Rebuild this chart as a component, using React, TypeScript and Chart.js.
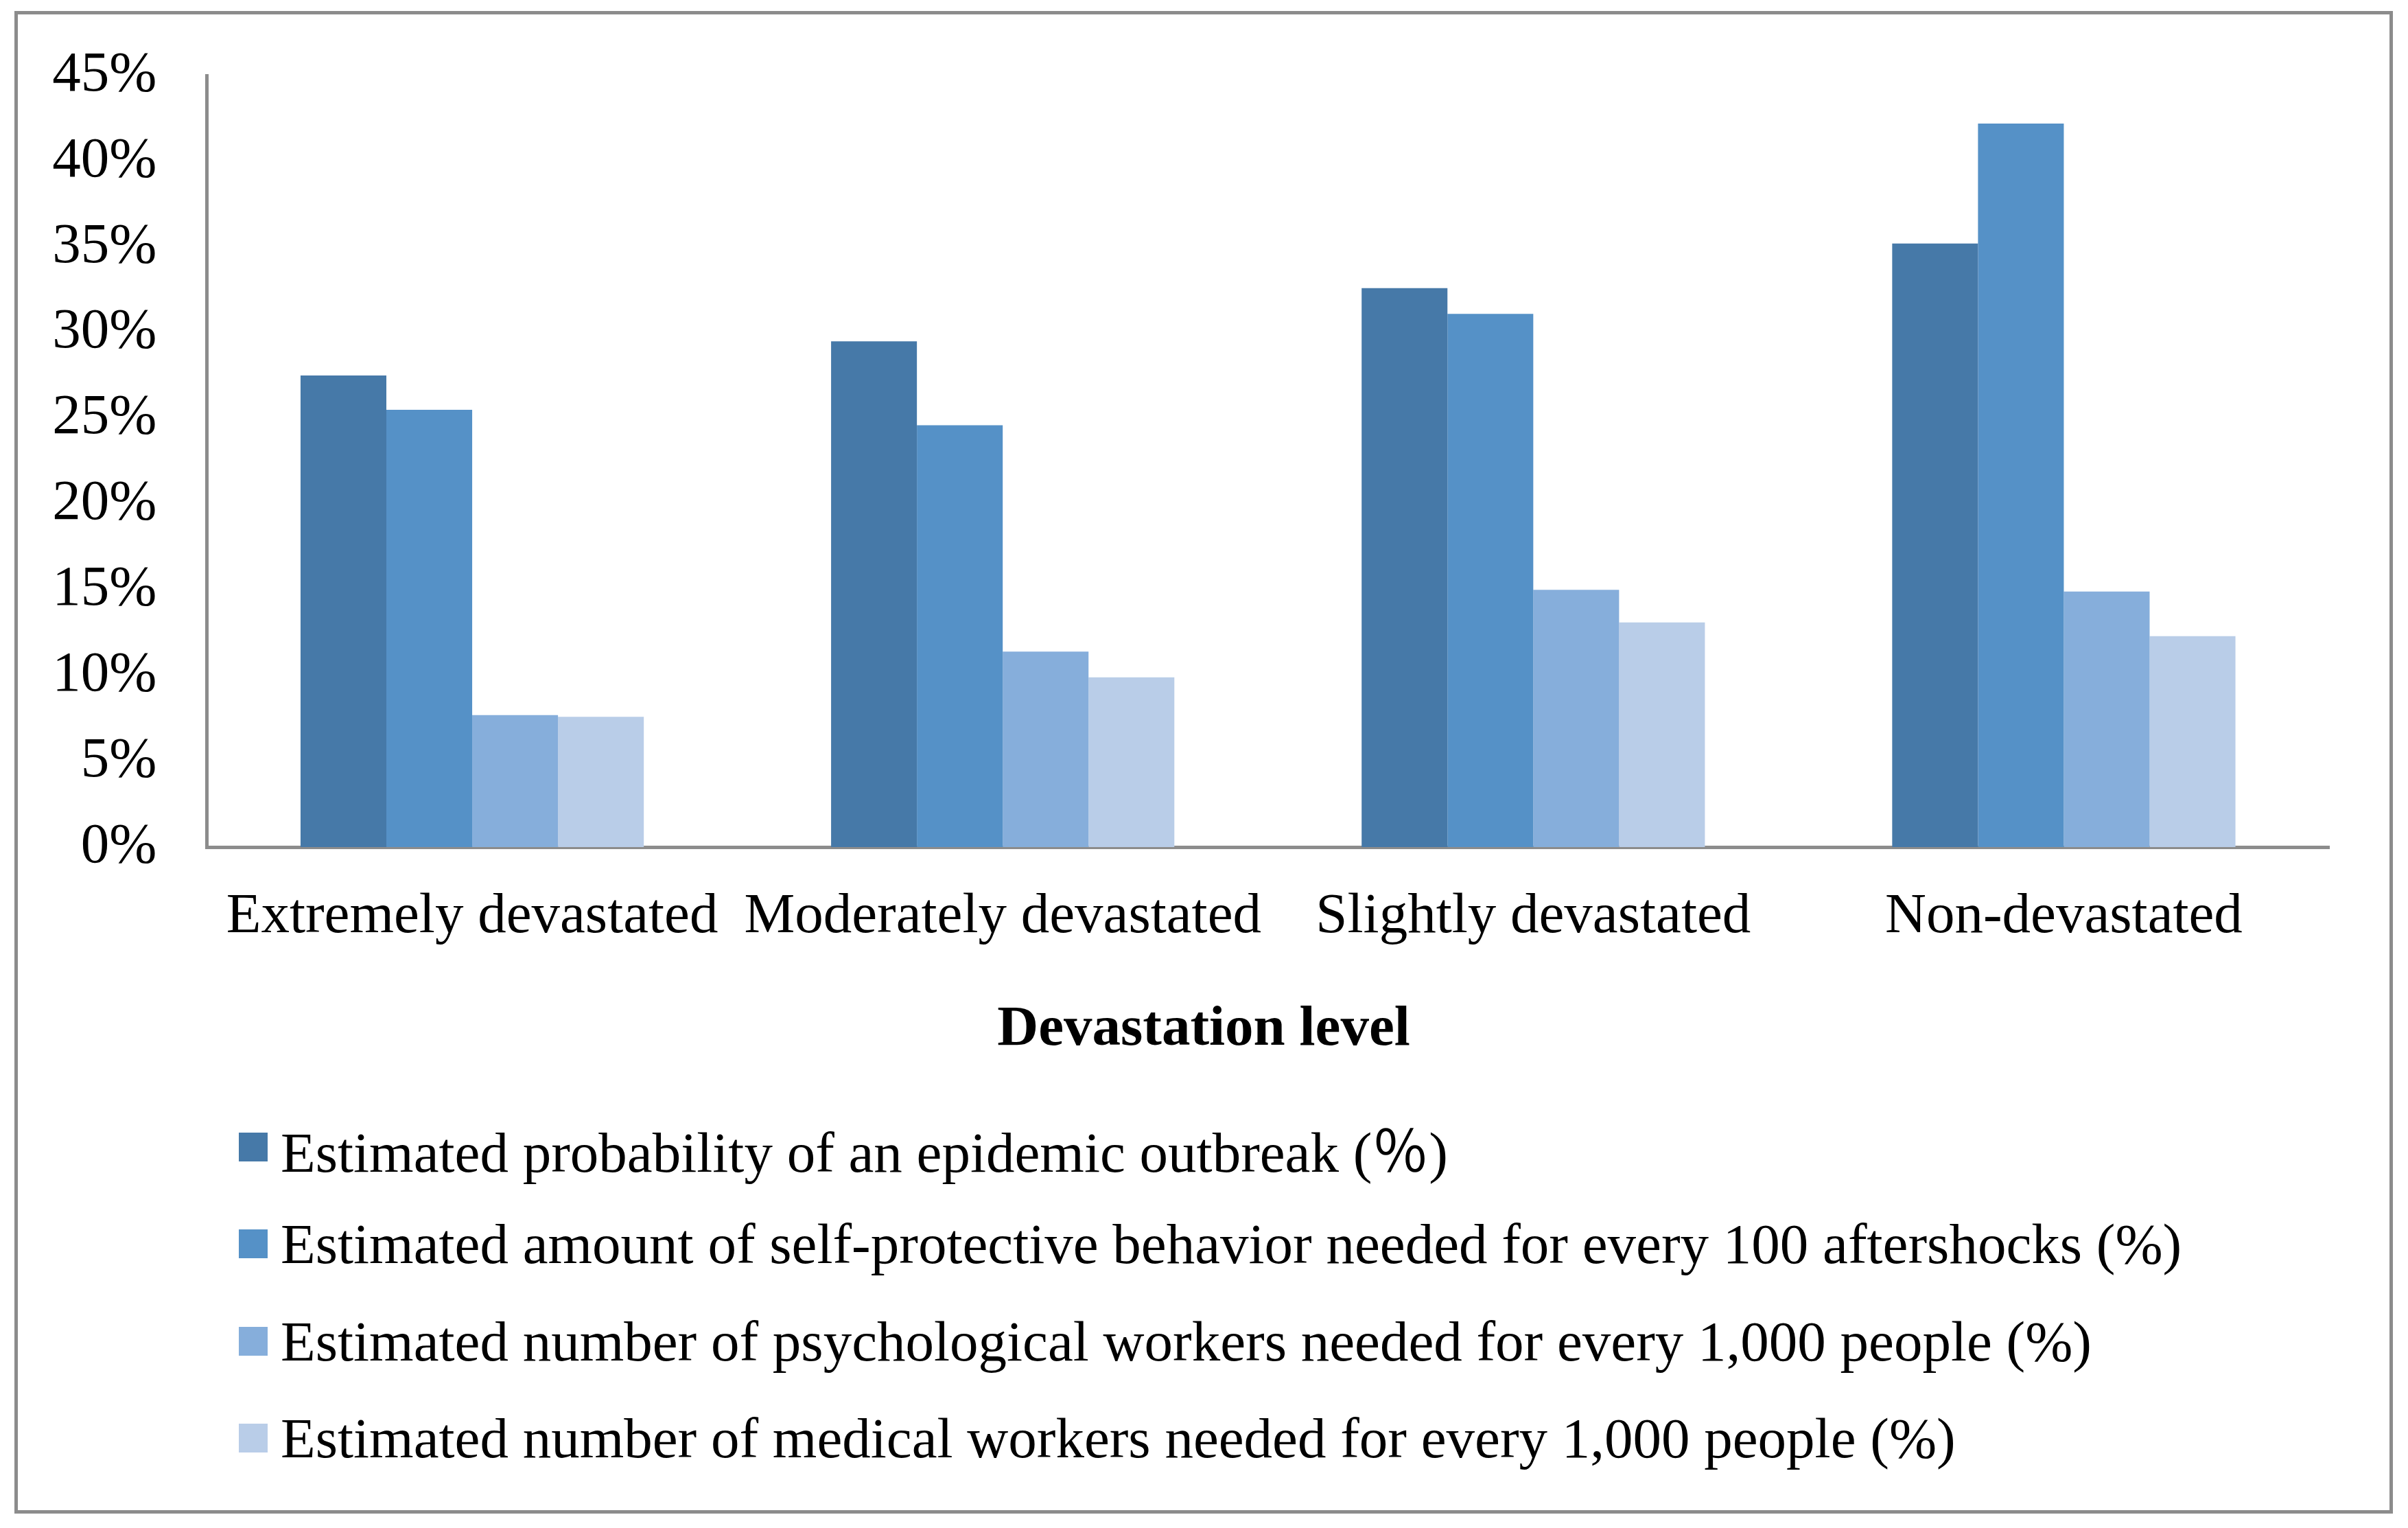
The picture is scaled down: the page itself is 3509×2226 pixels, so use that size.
import React, { useEffect, useRef } from "react";
import { Chart, registerables } from "chart.js";

Chart.register(...registerables);

const categories = [
  "Extremely devastated",
  "Moderately devastated",
  "Slightly devastated",
  "Non-devastated",
];

const seriesLabels = [
  "Estimated probability of an epidemic outbreak (％)",
  "Estimated amount of self-protective behavior needed for every 100 aftershocks (%)",
  "Estimated number of psychological workers needed for every 1,000 people (%)",
  "Estimated number of medical workers needed for every 1,000 people (%)",
];

const outbreak = [27.5, 29.5, 32.6, 35.2];
const selfProtective = [25.5, 24.6, 31.1, 42.2];
const psychWorkers = [7.7, 11.4, 15.0, 14.9];
const medicalWorkers = [7.6, 9.9, 13.1, 12.3];

const seriesColors = ["#4679a8", "#5591c7", "#86aedb", "#b9cde8"];

const yMin = 0;
const yMax = 45;
const yStep = 5;
const xTitle = "Devastation level";

const FONT = "'Liberation Serif', 'Times New Roman', 'Noto Sans CJK SC', serif";
const AXIS_GRAY = "#8c8c8c";

export default function App() {
  const canvasRef = useRef<HTMLCanvasElement | null>(null);

  useEffect(() => {
    const canvas = canvasRef.current;
    if (!canvas) return;
    const values = [outbreak, selfProtective, psychWorkers, medicalWorkers];
    const chart = new Chart(canvas, {
      type: "bar",
      data: {
        labels: categories,
        datasets: values.map((v, i) => ({
          label: seriesLabels[i],
          data: v,
          backgroundColor: seriesColors[i],
          borderWidth: 0,
          categoryPercentage: 0.647,
          barPercentage: 1.0,
        })),
      },
      options: {
        animation: false,
        responsive: false,
        devicePixelRatio: 1,
        layout: { padding: { top: 89, right: 0, left: 0, bottom: 0 } },
        plugins: {
          legend: { display: false },
          tooltip: { enabled: false },
          title: {
            display: true,
            position: "bottom",
            text: xTitle,
            color: "#000",
            font: { family: FONT, size: 83, weight: "bold", lineHeight: 1.2 },
            padding: { top: 65, bottom: 0 },
          },
        },
        scales: {
          x: {
            grid: { display: false, drawTicks: false },
            border: { display: true, color: AXIS_GRAY, width: 5 },
            ticks: {
              color: "#000",
              font: { family: FONT, size: 83, lineHeight: 1.2 },
              padding: 52,
              autoSkip: false,
              maxRotation: 0,
              minRotation: 0,
            },
            afterFit: (axis: any) => {
              axis.height = 151.4;
              axis.paddingLeft = 0;
              axis.paddingRight = 0;
            },
          },
          y: {
            min: yMin,
            max: yMax,
            grid: { display: false, drawTicks: false },
            border: { display: true, color: AXIS_GRAY, width: 5 },
            ticks: {
              stepSize: yStep,
              color: "#000",
              font: { family: FONT, size: 83, lineHeight: 1.2 },
              padding: 73,
              callback: (v: any) => `${v}%`,
            },
            afterFit: (axis: any) => {
              axis.width = 275.5;
              axis.paddingTop = 0;
              axis.paddingBottom = 0;
            },
          },
          rightSpace: {
            type: "linear",
            position: "right",
            display: true,
            grid: { display: false, drawTicks: false },
            border: { display: false },
            ticks: { display: false },
            afterFit: (axis: any) => {
              axis.width = 88;
              axis.paddingTop = 0;
              axis.paddingBottom = 0;
            },
          },
        },
      },
    });
    return () => chart.destroy();
  }, []);

  return (
    <div
      style={{
        position: "absolute",
        left: 21,
        top: 16,
        width: 3466,
        height: 2189,
        border: `5px solid ${AXIS_GRAY}`,
        boxSizing: "border-box",
        background: "#fff",
      }}
    >
      <canvas
        ref={canvasRef}
        width={3456}
        height={1529}
        style={{ position: "absolute", left: 0, top: 0, width: 3456, height: 1529 }}
      />
      <div
        style={{
          position: "absolute",
          left: 322,
          top: 1579.5,
          fontFamily: FONT,
          fontSize: 83,
          color: "#000",
        }}
      >
        {seriesLabels.map((label, i) => (
          <div
            key={label}
            style={{
              display: "flex",
              alignItems: "center",
              height: 141.3,
              whiteSpace: "nowrap",
            }}
          >
            <span
              style={{
                display: "inline-block",
                width: 42,
                height: 42,
                background: seriesColors[i],
                marginRight: 19,
                flex: "none",
              }}
            />
            <span style={{ lineHeight: "normal" }}>{label}</span>
          </div>
        ))}
      </div>
    </div>
  );
}
